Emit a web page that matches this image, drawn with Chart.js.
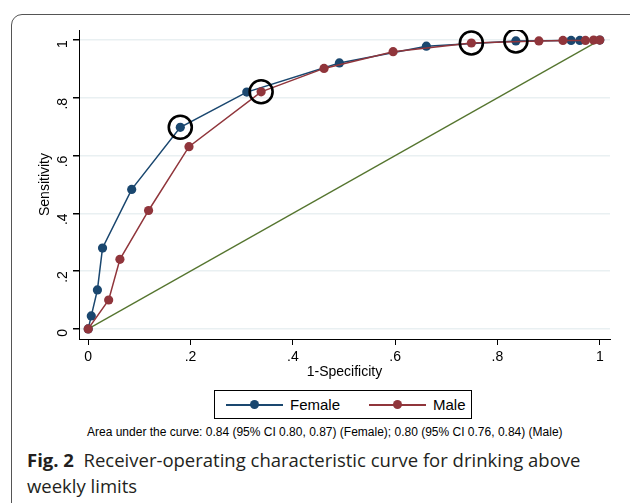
<!DOCTYPE html>
<html>
<head>
<meta charset="utf-8">
<script src="https://cdn.jsdelivr.net/npm/chart.js@4/dist/chart.umd.min.js"></script>
<style>
  body { margin: 0; background: #fff; }
  #wrap { position: relative; width: 630px; height: 503px; overflow: hidden; }
  #frame { position: absolute; left: 11px; top: 14px; width: 700px; height: 600px;
           border: 1.5px solid #555; border-top-left-radius: 11px; }
  #chart { position: absolute; left: 0; top: 0; }
  #legend { position: absolute; left: 214px; top: 390px; width: 256px; height: 27px;
            border: 1px solid #000; font: 15px "Liberation Sans", Arial, sans-serif; }
  .item { position: absolute; top: 0; height: 27px; line-height: 27px; }
  .sym { position: absolute; top: 13px; height: 1.5px; width: 57px; }
  .sym i { position: absolute; left: 24px; top: -4px; width: 9px; height: 9px; border-radius: 50%; }
  .lab { position: absolute; top: 0; white-space: nowrap; }
  #auc { position: absolute; left: 87px; top: 425px; white-space: nowrap;
         font: 12px "Liberation Sans", Arial, sans-serif; color: #000; }
  #caption { position: absolute; left: 27px; top: 447px; width: 600px;
             font: 18.5px "Open Sans", sans-serif; line-height: 26px; color: #231f20; }
</style>
</head>
<body>
<div id="wrap">
  <div id="frame"></div>
  <canvas id="chart" width="630" height="385"></canvas>
  <div id="legend">
    <div class="item" style="left:11px">
      <div class="sym" style="background:#1a476f"><i style="background:#1a476f"></i></div>
      <span class="lab" style="left:64px">Female</span>
    </div>
    <div class="item" style="left:154px">
      <div class="sym" style="background:#90353b"><i style="background:#90353b"></i></div>
      <span class="lab" style="left:64px">Male</span>
    </div>
  </div>
  <div id="auc">Area under the curve: 0.84 (95% CI 0.80, 0.87) (Female); 0.80 (95% CI 0.76, 0.84) (Male)</div>
  <div id="caption"><b>Fig. 2</b>&nbsp; Receiver-operating characteristic curve for drinking above<br>weekly limits</div>
</div>
<script>
const xTicks = [0, 0.2, 0.4, 0.6, 0.8, 1];
const yTicks = [0, 0.2, 0.4, 0.6, 0.8, 1];

const femaleFpr = [0, 0.006, 0.018, 0.028, 0.085, 0.18, 0.31, 0.491, 0.661, 0.836, 0.944, 0.961, 1];
const femaleTpr = [0, 0.045, 0.135, 0.28, 0.483, 0.698, 0.82, 0.921, 0.979, 0.997, 0.999, 0.999, 1];

const maleFpr = [0, 0.04, 0.062, 0.118, 0.197, 0.338, 0.461, 0.596, 0.749, 0.881, 0.928, 0.972, 0.988, 1];
const maleTpr = [0, 0.1, 0.241, 0.41, 0.631, 0.821, 0.902, 0.96, 0.99, 0.997, 0.999, 0.999, 1, 1];

// cut-points marked with circles
const markFpr = [0.18, 0.338, 0.749, 0.836];
const markTpr = [0.698, 0.821, 0.99, 0.997];

const refFpr = [0, 1];
const refTpr = [0, 1];

const pts = (xs, ys) => xs.map((x, i) => ({ x: x, y: ys[i] }));
const fmt = v => (v === 0 || v === 1) ? String(v) : String(+v.toFixed(1)).replace('0.', '.');
const axisFont = { family: '"Liberation Sans", Arial, sans-serif', size: 14 };

new Chart(document.getElementById('chart'), {
    type: 'scatter',
    data: {
        datasets: [
            {
                label: 'marks',
                data: pts(markFpr, markTpr),
                showLine: false,
                pointRadius: 11.5,
                pointBorderWidth: 2.6,
                pointBorderColor: '#000',
                pointBackgroundColor: 'rgba(0,0,0,0)',
                order: 0
            },
            {
                label: 'Male',
                data: pts(maleFpr, maleTpr),
                showLine: true,
                borderColor: '#90353b',
                backgroundColor: '#90353b',
                borderWidth: 1.5,
                pointRadius: 4.6,
                pointBorderWidth: 0,
                order: 1
            },
            {
                label: 'Female',
                data: pts(femaleFpr, femaleTpr),
                showLine: true,
                borderColor: '#1a476f',
                backgroundColor: '#1a476f',
                borderWidth: 1.5,
                pointRadius: 4.6,
                pointBorderWidth: 0,
                order: 2
            },
            {
                label: 'reference',
                data: pts(refFpr, refTpr),
                showLine: true,
                borderColor: '#55752f',
                borderWidth: 1.3,
                pointRadius: 0,
                order: 3
            }
        ]
    },
    options: {
        responsive: false,
        animation: false,
        layout: { padding: { left: 0, right: 20, top: 30, bottom: 0 }, autoPadding: false },
        plugins: { legend: { display: false }, tooltip: { enabled: false } },
        scales: {
            x: {
                type: 'linear',
                min: -0.018,
                max: 1.02,
                afterBuildTicks: s => { s.ticks = xTicks.map(v => ({ value: v })); },
                afterFit: s => { s.height = 46; },
                ticks: { callback: fmt, font: axisFont, color: '#000', padding: 4, maxRotation: 0 },
                grid: { drawOnChartArea: false, tickLength: 6, tickColor: '#000' },
                border: { color: '#000', width: 1 },
                title: { display: true, text: '1-Specificity', font: axisFont, color: '#000', padding: { top: 0, bottom: 4 } }
            },
            y: {
                type: 'linear',
                min: -0.035,
                max: 1.035,
                afterBuildTicks: s => { s.ticks = yTicks.map(v => ({ value: v })); },
                afterFit: s => { s.width = 79; },
                ticks: { callback: fmt, font: axisFont, color: '#000', padding: 10, minRotation: 90, maxRotation: 90 },
                grid: { color: '#e9f0f2', lineWidth: 1.5, tickLength: 6, tickColor: '#000' },
                border: { color: '#000', width: 1 },
                title: { display: true, text: 'Sensitivity', font: axisFont, color: '#000', padding: { top: 36.6, bottom: 0 } }
            }
        }
    }
});
</script>
</body>
</html>
